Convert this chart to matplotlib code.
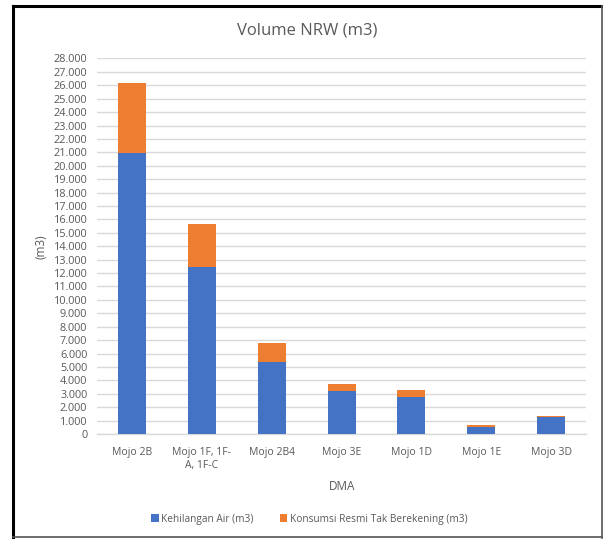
import matplotlib
matplotlib.use("Agg")
import matplotlib.pyplot as plt
from matplotlib.ticker import FuncFormatter, MultipleLocator
from matplotlib.lines import Line2D
import numpy as np

# data DMA
dma = ["Mojo 2B", "Mojo 1F, 1F-\nA, 1F-C", "Mojo 2B4", "Mojo 3E", "Mojo 1D", "Mojo 1E", "Mojo 3D"]
kehilangan_air = [20950, 12450, 5400, 3200, 2780, 500, 1250]
konsumsi_resmi = [5250, 3230, 1410, 530, 480, 200, 90]

blue = "#4472c4"
orange = "#ed7d31"
grey_txt = "#595959"

plt.rcParams['font.family'] = ['Open Sans', 'DejaVu Sans']

fig = plt.figure(figsize=(6.03, 5.39), dpi=100)
ax = fig.add_axes([0.161, 0.1948, 0.811, 0.6967])

x = np.arange(len(dma))
ax.bar(x, kehilangan_air, width=0.4, color=blue, zorder=3, label="Kehilangan Air (m3)")
ax.bar(x, konsumsi_resmi, width=0.4, bottom=kehilangan_air, color=orange, zorder=3,
       label="Konsumsi Resmi Tak Berekening (m3)")

ax.set_xlim(-0.5, len(dma) - 0.5)
ax.set_ylim(0, 28000)
ax.yaxis.set_major_locator(MultipleLocator(1000))
ax.yaxis.set_major_formatter(FuncFormatter(lambda v, p: f"{int(v):,}".replace(",", ".")))
ax.grid(axis="y", color="#d9d9d9", linewidth=1, zorder=0)
for s in ["top", "right", "left"]:
    ax.spines[s].set_visible(False)
ax.spines["bottom"].set_color("#d9d9d9")
ax.spines["bottom"].set_linewidth(1)
ax.tick_params(length=0, colors=grey_txt)
ax.tick_params(axis="y", labelsize=7.8, pad=7)
ax.tick_params(axis="x", pad=9)
ax.set_xticks(x)
ax.set_xticklabels(dma, fontsize=7.5, color=grey_txt, linespacing=1.25)

ax.set_ylabel("(m3)", fontsize=8.5, color=grey_txt, labelpad=4)
ax.set_xlabel("DMA", fontsize=8.5, color=grey_txt, labelpad=7)
fig.text(0.509, 0.943, "Volume NRW (m3)", ha="center", va="center", fontsize=12, color=grey_txt)

handles, labels = ax.get_legend_handles_labels()
fig.legend(handles, labels, loc="center", bbox_to_anchor=(0.513, 0.037), ncol=2, frameon=False,
           fontsize=7.3, labelcolor=grey_txt, handlelength=0.75, handleheight=0.75,
           handletextpad=0.25, columnspacing=2.6)

# bingkai luar
fig.add_artist(Line2D([0.0216, 0.0216], [0.002, 0.989], color="black", linewidth=2.2, transform=fig.transFigure))
fig.add_artist(Line2D([0.0216, 0.998], [0.989, 0.989], color="black", linewidth=2.2, transform=fig.transFigure))
fig.add_artist(Line2D([0.998, 0.998], [0.002, 0.989], color="#555555", linewidth=1.2, transform=fig.transFigure))
fig.add_artist(Line2D([0.0216, 0.998], [0.003, 0.003], color="#555555", linewidth=1.2, transform=fig.transFigure))

fig.savefig("out.png", dpi=100)
